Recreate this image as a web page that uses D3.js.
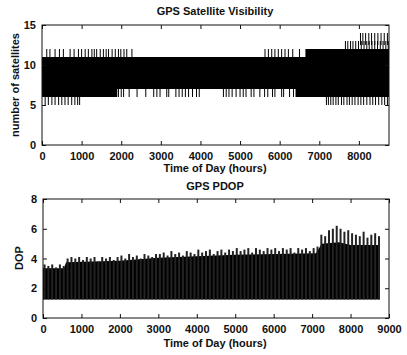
<!DOCTYPE html>
<html>
<head>
<meta charset="utf-8">
<script src="https://cdn.jsdelivr.net/npm/d3@7"></script>
<style>
  html, body { margin: 0; padding: 0; background: #fff; }
  svg { display: block; }
  text { font-family: "Liberation Sans Narrow", "Arial Narrow", "Liberation Sans", Arial, sans-serif; font-weight: bold; fill: #111; }
</style>
</head>
<body>
<svg id="chart"></svg>
<script>
// ---- GPS satellite visibility (top panel) ----
const satBreakHours = [0, 1900, 6400, 6650, 8760];
const satBandLow    = [6, 7, 6, 6, 6];
const satBandHigh   = [11, 11, 11, 12, 12];

// short excursions (hours)
const satUp12Hours = [120, 200, 330, 440, 540, 710, 810, 920, 1000, 1090, 1170, 1260, 1320, 1380,
  1470, 1550, 1620, 1680, 1770, 1850, 1930, 1990, 2070, 2140, 2270,
  5630, 5715, 5800, 5880, 5965, 6050, 6135, 6220, 6330, 6500];
const satUp13Hours = [7660, 7720, 7790, 7850, 7920, 7990, 8060, 8130, 8200, 8260, 8330, 8400,
  8470, 8540, 8610, 8680, 8740];
const satUp14Hours = [8040, 8100, 8170, 8250, 8320, 8400, 8480, 8560, 8640, 8720];
const satDown5EarlyHours = [80, 160, 250, 330, 420, 500, 580, 660, 750, 830, 900, 950];
const satDown6Hours = [1930, 2000, 2060, 2200, 2400, 2620, 2820, 2900, 2980, 3150, 3200, 3380,
  3460, 3540, 3620, 3700, 3800, 3900, 3970,
  4580, 4650, 4720, 4800, 4900, 5000, 5080, 5150, 5280, 5350, 5500, 5620, 5700, 5820, 5880,
  6050, 6100, 6250, 6350];
const satDown5LateHours = [7180, 7230, 7290, 7350, 7420, 7480, 7560, 7620, 7700, 7760, 7830, 7900,
  7980, 8050, 8120, 8200, 8280, 8350, 8420, 8500, 8580, 8650, 8720];

const satXTicks = [0, 1000, 2000, 3000, 4000, 5000, 6000, 7000, 8000];
const satYTicks = [0, 5, 10, 15];

// ---- GPS PDOP (bottom panel) ----
const pdopFloor = 1.25;
const pdopBodyHours = [0, 550, 600, 2000, 3000, 4000, 5000, 7100, 7250, 7700, 8000, 8760];
const pdopBody      = [3.35, 3.35, 3.75, 3.85, 4.05, 4.15, 4.25, 4.35, 5.0, 5.1, 4.9, 4.9];
// peak value in each 100 h slot, 0 .. 8700 h
const pdopPeaks = [
  3.6, 3.5, 3.6, 3.4, 3.6, 3.5,
  4.0, 4.1, 4.0, 4.1, 3.9, 4.1, 4.0, 4.1, 3.8, 4.1, 4.0, 4.1, 3.9, 4.1,
  4.2, 4.0, 4.3, 4.1, 4.2, 4.0, 4.3, 4.2, 4.1, 4.3,
  4.3, 4.4, 4.2, 4.5, 4.3, 4.4, 4.2, 4.5, 4.4, 4.3,
  4.6, 4.4, 4.5, 4.6, 4.3, 4.5, 4.6, 4.4, 4.6, 4.5,
  4.7, 4.5, 4.6, 4.7, 4.4, 4.7, 4.6, 4.5, 4.7, 4.6,
  4.7, 4.5, 4.7, 4.6, 4.7, 4.4, 4.7, 4.6, 4.7, 4.5,
  4.7, 4.8, 5.6, 5.5, 5.9, 6.0, 6.2, 6.0, 5.8, 5.9,
  5.7, 5.6, 5.5, 5.8, 5.4, 5.6, 5.7, 5.5];
const pdopPeakStep = 100;

const pdopXTicks = [0, 1000, 2000, 3000, 4000, 5000, 6000, 7000, 8000, 9000];
const pdopYTicks = [0, 2, 4, 6, 8];

const width = 407, height = 355;
const fs = 11;

const svg = d3.select('#chart').attr('width', width).attr('height', height);
svg.append('rect').attr('width', width).attr('height', height).attr('fill', '#fff');

function drawFrame(x, y, xTicks, yTicks) {
  const [x0, x1] = x.range();
  const [y0, y1] = y.range();
  const g = svg.append('g');

  g.append('g').attr('transform', `translate(0,${y0})`)
    .call(d3.axisBottom(x).tickValues(xTicks).tickSize(-4).tickPadding(7).tickFormat(d3.format('d')))
    .call(a => a.select('.domain').remove());
  g.append('g').attr('transform', `translate(0,${y1})`)
    .call(d3.axisTop(x).tickValues(xTicks).tickSize(-4).tickFormat(''))
    .call(a => a.select('.domain').remove());
  g.append('g').attr('transform', `translate(${x0},0)`)
    .call(d3.axisLeft(y).tickValues(yTicks).tickSize(-4).tickPadding(6))
    .call(a => a.select('.domain').remove());
  g.append('g').attr('transform', `translate(${x1},0)`)
    .call(d3.axisRight(y).tickValues(yTicks).tickSize(-4).tickFormat(''))
    .call(a => a.select('.domain').remove());

  g.selectAll('.tick line').attr('stroke', '#111');
  g.selectAll('.tick text').attr('font-size', fs).attr('fill', '#111')
    .style('font-family', null);

  g.append('rect')
    .attr('x', x0).attr('y', y1)
    .attr('width', x1 - x0).attr('height', y0 - y1)
    .attr('fill', 'none').attr('stroke', '#111').attr('stroke-width', 1);
}

function spikes(x, y, hours, from, to) {
  svg.append('g').selectAll('line').data(hours).join('line')
    .attr('x1', d => x(d)).attr('x2', d => x(d))
    .attr('y1', y(from)).attr('y2', y(to))
    .attr('stroke', '#000').attr('stroke-width', 1);
}

// ---------- top panel ----------
const x1s = d3.scaleLinear().domain([0, 8760]).range([42, 389]);
const y1s = d3.scaleLinear().domain([0, 15]).range([145, 25]);

const satArea = d3.area()
  .x((d, i) => x1s(satBreakHours[i]))
  .y0((d, i) => y1s(satBandLow[i]))
  .y1((d, i) => y1s(satBandHigh[i]))
  .curve(d3.curveStepAfter);
svg.append('path').datum(satBreakHours).attr('d', satArea).attr('fill', '#000');

spikes(x1s, y1s, satUp12Hours, 11, 12);
spikes(x1s, y1s, satUp13Hours, 12, 13);
spikes(x1s, y1s, satUp14Hours, 12.5, 14);
spikes(x1s, y1s, satDown5EarlyHours, 6, 5);
spikes(x1s, y1s, satDown6Hours, 7, 6);
spikes(x1s, y1s, satDown5LateHours, 6, 5);

drawFrame(x1s, y1s, satXTicks, satYTicks);

svg.append('text').attr('x', 215).attr('y', 15).attr('text-anchor', 'middle')
  .attr('font-size', fs).text('GPS Satellite Visibility');
svg.append('text').attr('x', 215).attr('y', 172).attr('text-anchor', 'middle')
  .attr('font-size', fs).text('Time of Day (hours)');
svg.append('text').attr('transform', 'translate(19,85) rotate(-90)').attr('text-anchor', 'middle')
  .attr('font-size', fs).text('number of satellites');

// ---------- bottom panel ----------
const x2s = d3.scaleLinear().domain([0, 9000]).range([43, 389]);
const y2s = d3.scaleLinear().domain([0, 8]).range([318, 199]);

const pdopArea = d3.area()
  .x((d, i) => x2s(pdopBodyHours[i]))
  .y0(y2s(pdopFloor))
  .y1((d, i) => y2s(pdopBody[i]));
svg.append('path').datum(pdopBodyHours).attr('d', pdopArea).attr('fill', '#000');

svg.append('g').selectAll('line').data(pdopPeaks).join('line')
  .attr('x1', (d, i) => x2s(i * pdopPeakStep + 40)).attr('x2', (d, i) => x2s(i * pdopPeakStep + 40))
  .attr('y1', y2s(pdopFloor)).attr('y2', d => y2s(d))
  .attr('stroke', '#222').attr('stroke-width', 2);

drawFrame(x2s, y2s, pdopXTicks, pdopYTicks);

svg.append('text').attr('x', 215).attr('y', 190).attr('text-anchor', 'middle')
  .attr('font-size', fs).text('GPS PDOP');
svg.append('text').attr('x', 215).attr('y', 347).attr('text-anchor', 'middle')
  .attr('font-size', fs).text('Time of Day (hours)');
svg.append('text').attr('transform', 'translate(23,258) rotate(-90)').attr('text-anchor', 'middle')
  .attr('font-size', fs).text('DOP');
</script>
</body>
</html>
